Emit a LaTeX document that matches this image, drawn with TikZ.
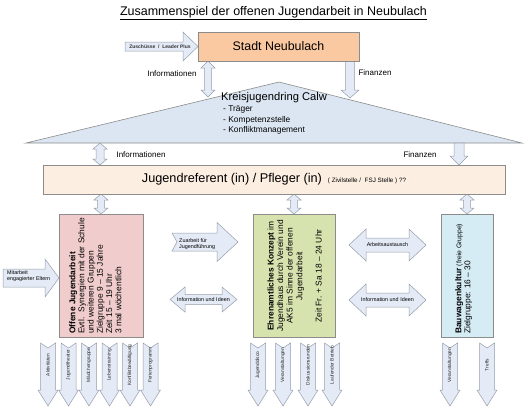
\documentclass[tikz,border=0pt]{standalone}
\usepackage{fontspec}
\setmainfont{Liberation Sans}
\definecolor{bordergray}{RGB}{140,140,140}
\definecolor{arrowline}{RGB}{150,158,170}
\definecolor{arrowfill}{RGB}{228,234,246}
\definecolor{stadtfill}{RGB}{250,201,162}
\definecolor{barfill}{RGB}{253,238,226}
\definecolor{trifill}{RGB}{220,230,242}
\definecolor{pinkfill}{RGB}{240,204,204}
\definecolor{greenfill}{RGB}{214,227,175}
\definecolor{bluefill}{RGB}{213,236,245}
\newcommand\RArrow[7]{\draw[arr] (#1,#3-#4) -- (#2-#6,#3-#4) -- (#2-#6,#3-#5) -- (#2,#3) -- (#2-#6,#3+#5) -- (#2-#6,#3+#4) -- (#1,#3+#4) -- (#1+#7,#3) -- cycle;}
\newcommand\DArrow[7]{\draw[arr] (#1-#4,#2) -- (#1,#2+#7) -- (#1+#4,#2) -- (#1+#4,#3-#6) -- (#1+#5,#3-#6) -- (#1,#3) -- (#1-#5,#3-#6) -- (#1-#4,#3-#6) -- cycle;}
\newcommand\VDArrow[6]{\draw[arr] (#1,#2) -- (#1+#5,#2+#6) -- (#1+#4,#2+#6) -- (#1+#4,#3-#6) -- (#1+#5,#3-#6) -- (#1,#3) -- (#1-#5,#3-#6) -- (#1-#4,#3-#6) -- (#1-#4,#2+#6) -- (#1-#5,#2+#6) -- cycle;}
\newcommand\HDArrow[6]{\draw[arr] (#1,#3) -- (#1+#6,#3-#5) -- (#1+#6,#3-#4) -- (#2-#6,#3-#4) -- (#2-#6,#3-#5) -- (#2,#3) -- (#2-#6,#3+#5) -- (#2-#6,#3+#4) -- (#1+#6,#3+#4) -- (#1+#6,#3+#5) -- cycle;}
\newcommand\BotArrow[3]{\DArrow{#2}{343}{406}{7.5}{10}{16}{5}
  \node[rotate=90, font=\fontsize{4.8}{5}\selectfont, text=black!85] (#1) at (#2,365) {#3};}
\begin{document}
\begin{tikzpicture}[x=1pt,y=-1pt,
  box/.style={draw=bordergray, line width=0.6pt, inner sep=0pt},
  arr/.style={draw=arrowline, fill=arrowfill, line width=0.5pt},
  lbl/.style={font=\fontsize{8}{9}\selectfont, inner sep=0pt},
  tiny/.style={font=\fontsize{5.4}{6.5}\selectfont, inner sep=0pt, align=left}]
\useasboundingbox (0,0) rectangle (530,408);
% title
\node[font=\fontsize{12.5}{14}\selectfont, inner sep=0pt] (title) at (273.5,13) {\underline{Zusammenspiel der offenen Jugendarbeit in Neubulach}};
% triangle
\coordinate (tl) at (26,143);
\coordinate (ta) at (279,82);
\coordinate (tr) at (522,143);
\draw[box, fill=trifill] (tl) -- (ta) -- (tr) -- cycle;
\node[font=\fontsize{11.2}{13}\selectfont, anchor=west, inner sep=0pt] (kjr) at (221,98) {Kreisjugendring Calw};
\node[font=\fontsize{8.4}{10.5}\selectfont, anchor=north west, align=left, inner sep=0pt] (kjrlist) at (223,106) {- Träger\\- Kompetenzstelle\\- Konfliktmanagement};
% arrows Stadt <-> Kreisjugendring
\RArrow{125}{198}{46.5}{4.5}{14.5}{15}{0}
\node[font=\bfseries\fontsize{5}{6}\selectfont, inner sep=0pt, text=black!80] (zus) at (160,46.5) {Zuschüsse \ / \ Leader Plus};
\VDArrow{208}{61}{97}{3.5}{7}{7}
\node[lbl] (info1) at (172,74) {Informationen};
\DArrow{350}{61}{98}{4.5}{9}{8}{0}
\node[lbl] (fin1) at (375,73) {Finanzen};
% Kreisjugendring <-> Bar
\VDArrow{100}{143}{165}{4}{7}{6}
\node[lbl] (info2) at (141,155) {Informationen};
\DArrow{459}{143}{165}{5}{9}{9}{0}
\node[lbl] (fin2) at (420,155) {Finanzen};
% bar -> boxes
\VDArrow{101}{194}{214}{3.5}{7}{6}
\VDArrow{294}{194}{214}{3.5}{7}{6}
\VDArrow{467}{194}{214}{3.5}{7}{6}
% Stadt box
\node[box, fill=stadtfill, minimum width=161, minimum height=29, font=\fontsize{12.4}{14}\selectfont] (stadt) at (278.5,46.5) {Stadt Neubulach};
% bar
\node[box, fill=barfill, minimum width=462, minimum height=29] (bar) at (274,179.5) {\fontsize{12.7}{14}\selectfont Jugendreferent (in) / Pfleger (in)\hspace{6pt}{\fontsize{6.3}{7}\selectfont ( Zivilstelle / \ FSJ Stelle ) ??}};
% side arrows
\RArrow{3}{59}{278}{9}{19}{14}{0}
\node[tiny, anchor=west] (mit) at (7,276) {Mitarbeit\\engagierter Eltern};
\RArrow{172}{238}{242}{9}{19.5}{21}{5}
\node[tiny, anchor=west] (zu) at (179,244) {Zuarbeit für\\Jugendführung};
\HDArrow{170}{237}{299.5}{5}{12.5}{15}
\node[tiny] (ii1) at (203.5,299.5) {Information und Ideen};
\HDArrow{349}{426}{245}{7}{16}{17}
\node[tiny] (aa) at (387.5,245) {Arbeitsaustausch};
\HDArrow{349}{426}{300}{7}{16}{17}
\node[tiny] (ii2) at (387.5,300) {Information und Ideen};
% boxes
\node[box, fill=pinkfill, minimum width=84, minimum height=123] (b1) at (101,275.5) {};
\node[rotate=90, anchor=north west, align=left, inner sep=0pt, font=\fontsize{8.4}{9.2}\selectfont] (t1) at (69,334) {\textbf{Offene Jugendarbeit}\\Evtl. \ Synergien mit der Schule\\und weiteren Gruppen\\Zielgruppe 9 – 15 Jahre\\Zeit 15 – 19 Uhr\\3 mal wöchentlich};
\node[box, fill=greenfill, minimum width=82, minimum height=123] (b2) at (294,275.5) {};
\node[rotate=90, align=center, inner sep=0pt, font=\fontsize{8.4}{9.6}\selectfont] (t2) at (294.5,276) {\textbf{Ehrenamtliches Konzept} im\\Jugendhaus durch Verein und\\AK5 im Sinne der offenen\\Jugendarbeit\\[9.6pt]Zeit Fr. + Sa 18 – 24 Uhr};
\node[box, fill=bluefill, minimum width=52, minimum height=123] (b3) at (467,275.5) {};
\node[rotate=90, anchor=north west, align=left, inner sep=0pt, font=\fontsize{8.4}{9.2}\selectfont] (t3) at (455,334) {\textbf{Bauwagenkultur} {\fontsize{6.8}{8}\selectfont (freie Gruppe)}\\Zielgruppe: 16 – 30};
% bottom arrows
\BotArrow{a1}{48}{Aktivitäten}
\BotArrow{a2}{68.5}{Jugendtheater}
\BotArrow{a3}{89}{Mädchengruppe}
\BotArrow{a4}{109.5}{Lebenstraining}
\BotArrow{a5}{130}{Konfliktbewältigung}
\BotArrow{a6}{150.5}{Ferienprogramm}
\BotArrow{c1}{258}{Jugenddisco}
\BotArrow{c2}{283}{Veranstaltungen}
\BotArrow{c3}{308}{Diskussionsrunden}
\BotArrow{c4}{332}{Laufender Betrieb}
\BotArrow{d1}{450}{Veranstaltungen}
\BotArrow{d2}{487}{Treffs}
\end{tikzpicture}
\end{document}
